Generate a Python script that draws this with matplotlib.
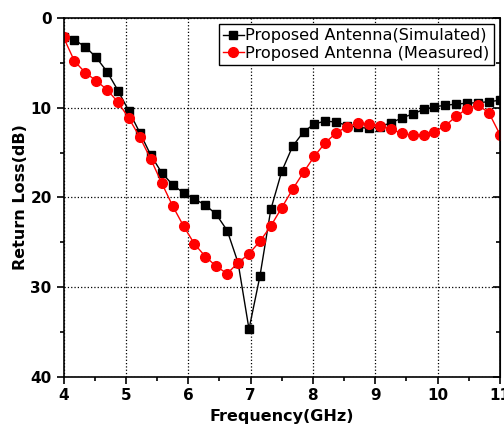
import matplotlib.pyplot as plt
import matplotlib
from matplotlib.ticker import MultipleLocator

matplotlib.rcParams['font.family'] = ['DejaVu Sans']

freq_start = 4.0
freq_step = 0.175

simulated = [2.1, 2.45, 3.2, 4.4, 6.0, 8.1, 10.4, 12.8, 15.3, 17.25,
             18.6, 19.5, 20.2, 20.85, 21.9, 23.7, 27.3, 34.7, 28.8, 21.35,
             17.1, 14.3, 12.7, 11.8, 11.5, 11.6, 12.0, 12.2, 12.3, 12.1,
             11.7, 11.15, 10.7, 10.2, 9.9, 9.73, 9.6, 9.5, 9.44, 9.33, 9.17]
measured = [2.15, 4.8, 6.1, 7.0, 8.0, 9.4, 11.2, 13.3, 15.75, 18.4,
            20.95, 23.2, 25.2, 26.6, 27.7, 28.5, 27.3, 26.3, 24.9, 23.2,
            21.15, 19.1, 17.2, 15.4, 13.9, 12.8, 12.1, 11.75, 11.8, 12.0,
            12.4, 12.85, 13.1, 13.0, 12.7, 12.0, 10.95, 10.1, 9.7, 10.6, 13.0]
freqs = [freq_start + freq_step * k for k in range(len(simulated))]

fig = plt.figure(figsize=(5.04, 4.29), dpi=100)
ax = fig.add_axes([0.126, 0.122, 0.866, 0.836])

ax.plot(freqs, simulated, color='black', marker='s', markersize=5.5, linewidth=1,
        label='Proposed Antenna(Simulated)')
ax.plot(freqs, measured, color='red', marker='o', markersize=7, linewidth=1,
        label='Proposed Antenna (Measured)')

ax.set_xlim(4, 11)
ax.set_ylim(40, 0)
ax.xaxis.set_major_locator(MultipleLocator(1))
ax.xaxis.set_minor_locator(MultipleLocator(0.5))
ax.yaxis.set_major_locator(MultipleLocator(10))
ax.yaxis.set_minor_locator(MultipleLocator(5))
ax.tick_params(which='both', direction='out', width=1.2, labelsize=11)
ax.tick_params(which='major', length=5)
ax.tick_params(which='minor', length=3)
for lab in ax.get_xticklabels() + ax.get_yticklabels():
    lab.set_fontweight('bold')
ax.grid(True, which='major', linestyle=':', color='black', linewidth=0.9)
for s in ax.spines.values():
    s.set_linewidth(1.2)

# inward ticks on the right spine
ax_r = ax.secondary_yaxis('right')
ax_r.yaxis.set_major_locator(MultipleLocator(10))
ax_r.yaxis.set_minor_locator(MultipleLocator(5))
ax_r.tick_params(which='both', direction='in', width=1.2, labelright=False)
ax_r.tick_params(which='major', length=5)
ax_r.tick_params(which='minor', length=3)

ax.set_xlabel('Frequency(GHz)', fontsize=11.5, fontweight='bold', labelpad=4)
ax.set_ylabel('Return Loss(dB)', fontsize=11.5, fontweight='bold', labelpad=2)

leg = ax.legend(loc='upper right', fontsize=11.6, handlelength=1.3, handletextpad=0.1,
                borderpad=0.25, labelspacing=0.15, fancybox=False, framealpha=1,
                edgecolor='black', borderaxespad=0.4)
leg.get_frame().set_linewidth(1.0)

fig.savefig('out.png', dpi=100, facecolor='white')
